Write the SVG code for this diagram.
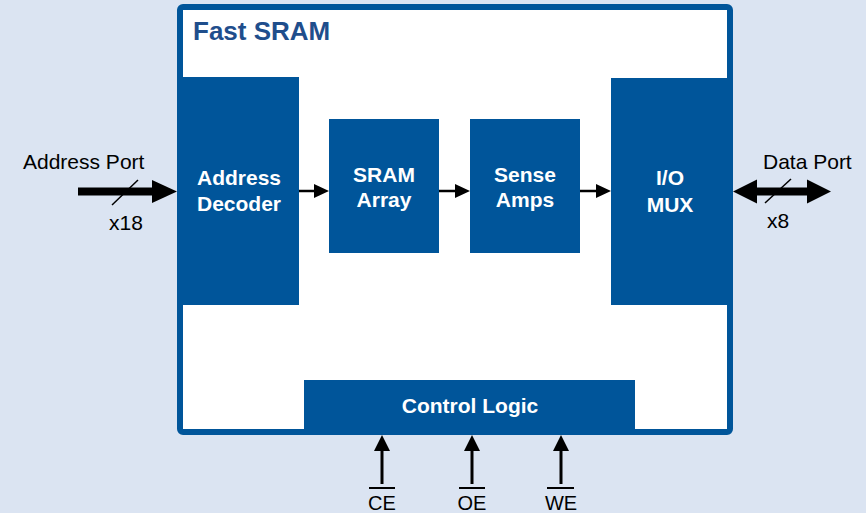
<svg xmlns="http://www.w3.org/2000/svg" width="866" height="513" viewBox="0 0 866 513">
  <defs>
    <style>
      .blk { fill: #00559a; }
      .lbl { font-family: "Liberation Sans", Arial, sans-serif; font-weight: bold; font-size: 21px; fill: #ffffff; text-anchor: middle; }
      .port { font-family: "Liberation Sans", Arial, sans-serif; font-size: 21px; fill: #000000; }
      .sig { font-family: "Liberation Sans", Arial, sans-serif; font-size: 20px; fill: #000000; text-anchor: middle; }
      .thin { stroke: #000000; stroke-width: 2.5; fill: none; }
      .ctl { stroke: #000000; stroke-width: 3; fill: none; }
      .bus { stroke: #000000; stroke-width: 8; fill: none; }
      .slash { stroke: #000000; stroke-width: 1.5; fill: none; }
    </style>
  </defs>

  <!-- background -->
  <rect x="0" y="0" width="866" height="513" fill="#dbe4f2"/>

  <!-- chip outline -->
  <g id="chip">
    <rect x="180" y="7" width="550" height="425" rx="3" fill="#ffffff" stroke="#00559a" stroke-width="6"/>
    <text x="193" y="40" font-family="Liberation Sans, Arial, sans-serif" font-weight="bold" font-size="26" fill="#1f4e8c">Fast SRAM</text>
  </g>

  <g id="address-decoder">
    <rect class="blk" x="177" y="77" width="122" height="228"/>
    <text class="lbl" x="239" y="185">Address</text>
    <text class="lbl" x="239" y="211">Decoder</text>
  </g>

  <g id="sram-array">
    <rect class="blk" x="329" y="119" width="110" height="134"/>
    <text class="lbl" x="384" y="182">SRAM</text>
    <text class="lbl" x="384" y="207">Array</text>
  </g>

  <g id="sense-amps">
    <rect class="blk" x="470" y="119" width="110" height="134"/>
    <text class="lbl" x="525" y="182">Sense</text>
    <text class="lbl" x="525" y="207">Amps</text>
  </g>

  <g id="io-mux">
    <rect class="blk" x="611" y="78" width="122" height="227"/>
    <text class="lbl" x="670" y="185">I/O</text>
    <text class="lbl" x="670" y="212">MUX</text>
  </g>

  <g id="control-logic">
    <rect class="blk" x="304" y="380" width="331" height="55"/>
    <text class="lbl" x="470" y="413">Control Logic</text>
  </g>

  <!-- port and signal labels -->
  <g id="address-port">
    <text class="port" x="23" y="169">Address Port</text>
    <text class="port" x="109" y="230">x18</text>
  </g>
  <g id="data-port">
    <text class="port" x="763" y="169">Data Port</text>
    <text class="port" x="767" y="228">x8</text>
  </g>
  <g id="ce">
    <line x1="369" y1="488" x2="395" y2="488" stroke="#000" stroke-width="2"/>
    <text class="sig" x="382" y="510">CE</text>
  </g>
  <g id="oe">
    <line x1="459" y1="488" x2="485" y2="488" stroke="#000" stroke-width="2"/>
    <text class="sig" x="472" y="510">OE</text>
  </g>
  <g id="we">
    <line x1="547" y1="488" x2="574" y2="488" stroke="#000" stroke-width="2"/>
    <text class="sig" x="561" y="510">WE</text>
  </g>

  <!-- connectors -->
  <g id="connectors">
    <!-- address bus in -->
    <line class="bus" x1="78" y1="191.5" x2="154" y2="191.5"/>
    <polygon points="152,180 177,191.5 152,203" fill="#000"/>
    <line class="slash" x1="112" y1="205" x2="138" y2="180"/>

    <!-- data bus, bidirectional -->
    <line class="bus" x1="755" y1="191.5" x2="809" y2="191.5"/>
    <polygon points="757,179.5 733,191.5 757,203.5" fill="#000"/>
    <polygon points="807,179.5 831,191.5 807,203.5" fill="#000"/>
    <line class="slash" x1="765" y1="203" x2="791" y2="179"/>

    <!-- internal datapath -->
    <line class="thin" x1="299" y1="191" x2="316" y2="191"/>
    <polygon points="314,184 329,191 314,198" fill="#000"/>
    <line class="thin" x1="439" y1="191" x2="457" y2="191"/>
    <polygon points="455,184 470,191 455,198" fill="#000"/>
    <line class="thin" x1="580" y1="191" x2="598" y2="191"/>
    <polygon points="596,184 611,191 596,198" fill="#000"/>

    <!-- control inputs -->
    <line class="ctl" x1="382" y1="448" x2="382" y2="484"/>
    <polygon points="374,451 382,435 390,451" fill="#000"/>
    <line class="ctl" x1="472" y1="448" x2="472" y2="484"/>
    <polygon points="464,451 472,435 480,451" fill="#000"/>
    <line class="ctl" x1="561" y1="448" x2="561" y2="484"/>
    <polygon points="553,451 561,435 569,451" fill="#000"/>
  </g>
</svg>
